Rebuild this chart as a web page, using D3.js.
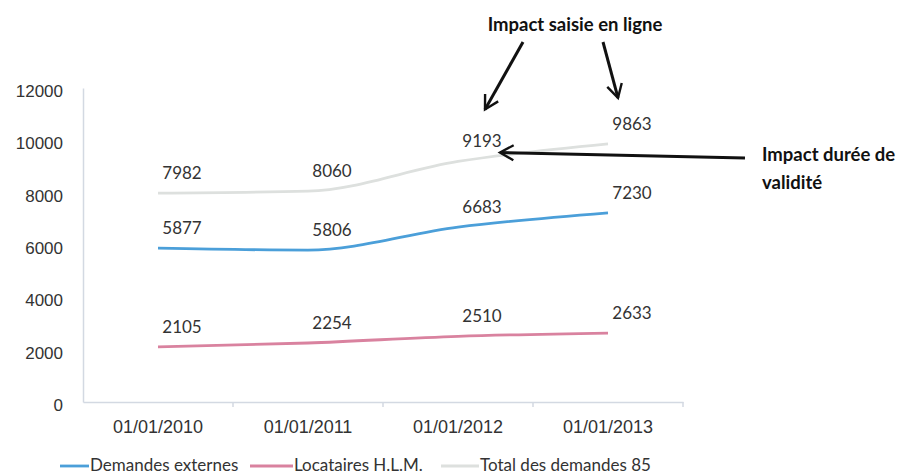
<!DOCTYPE html>
<html>
<head>
<meta charset="utf-8">
<script src="https://cdn.jsdelivr.net/npm/d3@7"></script>
<style>
  body { margin: 0; background: #fff; }
  svg { font-family: Lato, "Open Sans", sans-serif; }
</style>
</head>
<body>
<svg id="chart" width="900" height="475"></svg>
<script>
// data
const dates = ["01/01/2010", "01/01/2011", "01/01/2012", "01/01/2013"];
const externes = [5877, 5806, 6683, 7230];
const locataires = [2105, 2254, 2510, 2633];
const total = [7982, 8060, 9193, 9863];
const yTicks = [0, 2000, 4000, 6000, 8000, 10000, 12000];
const seriesNames = ["Demandes externes", "Locataires H.L.M.", "Total des demandes 85"];
const seriesColors = ["#4b9fd9", "#d9829f", "#dde0de"];

var svg = d3.select("#chart");

var x = d3.scaleBand().domain(dates).range([83, 683]);
var y = d3.scaleLinear().domain([0, 12000]).range([402, 88]);

const series = [
  { name: seriesNames[0], values: externes, color: seriesColors[0] },
  { name: seriesNames[1], values: locataires, color: seriesColors[1] },
  { name: seriesNames[2], values: total, color: seriesColors[2] }
];

// y axis: just a faint line + labels
var yAxis = svg.append("g")
  .attr("transform", "translate(" + x.range()[0] + ",0)")
  .call(d3.axisLeft(y).tickValues(yTicks).tickSize(0).tickPadding(20).tickFormat(d3.format("d")));
yAxis.select(".domain").attr("stroke", "#d3d9e2").attr("stroke-width", 1.5);
yAxis.selectAll("text").attr("font-size", 17).attr("fill", "#333").attr("dy", "0.5em");

// x axis
var xAxis = svg.append("g")
  .attr("transform", "translate(0," + y(0) + ")")
  .call(d3.axisBottom(x).tickSize(0).tickPadding(18));
xAxis.select(".domain").attr("stroke", "#d3d9e2").attr("stroke-width", 1.5);
xAxis.selectAll("text").attr("font-size", 18).attr("fill", "#333");

// small tick marks between categories
xAxis.selectAll(".sep")
  .data(dates.slice(1).concat(["end"]))
  .enter().append("line")
  .attr("x1", (d, i) => x(dates[0]) + (i + 1) * x.step())
  .attr("x2", (d, i) => x(dates[0]) + (i + 1) * x.step())
  .attr("y1", 0).attr("y2", 5)
  .attr("stroke", "#d3d9e2").attr("stroke-width", 1.5);

var cx = d => x(d) + x.bandwidth() / 2;

var line = d3.line()
  .x((v, i) => cx(dates[i]))
  .y(v => y(v))
  .curve(d3.curveMonotoneX);

svg.append("g").selectAll("path")
  .data(series)
  .enter().append("path")
  .attr("d", d => line(d.values))
  .attr("fill", "none")
  .attr("stroke", d => d.color)
  .attr("stroke-width", 2.8);

// data labels (sit up and to the right of the points)
series.forEach(function (s) {
  svg.append("g").selectAll("text")
    .data(s.values)
    .enter().append("text")
    .attr("x", (v, i) => cx(dates[i]) + 24)
    .attr("y", v => y(v) - 14)
    .attr("text-anchor", "middle")
    .attr("font-size", 17)
    .attr("fill", "#333")
    .text(v => v);
});

// legend
var legend = svg.append("g").attr("font-size", 17).attr("fill", "#333");
var legendX = [60, 250, 441];
var legendW = [29, 43, 38];
series.forEach(function (s, i) {
  legend.append("line")
    .attr("x1", legendX[i]).attr("x2", legendX[i] + legendW[i])
    .attr("y1", 466).attr("y2", 466)
    .attr("stroke", s.color).attr("stroke-width", 2.8);
  legend.append("text")
    .attr("x", legendX[i] + legendW[i] + 1)
    .attr("y", 471)
    .attr("fill", "#333")
    .text(s.name);
});

// annotations
svg.append("defs").append("marker")
  .attr("id", "head")
  .attr("viewBox", "0 0 12 12")
  .attr("refX", 10).attr("refY", 6)
  .attr("markerWidth", 6).attr("markerHeight", 6)
  .attr("orient", "auto")
  .append("path")
  .attr("d", "M1,1 L10,6 L1,11")
  .attr("fill", "none")
  .attr("stroke", "#111")
  .attr("stroke-width", 1.6);

var ann = svg.append("g").attr("font-weight", "bold").attr("font-size", 18.5).attr("fill", "#111");
ann.append("text").attr("x", 575).attr("y", 31).attr("text-anchor", "middle").text("Impact saisie en ligne");
ann.append("text").attr("x", 762).attr("y", 161).text("Impact durée de");
ann.append("text").attr("x", 762).attr("y", 189).text("validité");

var p2012 = [cx(dates[2]), y(total[2])];
var p2013 = [cx(dates[3]), y(total[3])];
var arrows = [
  [[523, 42], [p2012[0] + 27, p2012[1] - 52]],
  [[603, 42], [p2013[0] + 10, p2013[1] - 46]],
  [[745, 158], [p2012[0] + 42, p2012[1] - 9]]
];
svg.append("g").selectAll("line")
  .data(arrows)
  .enter().append("line")
  .attr("x1", d => d[0][0]).attr("y1", d => d[0][1])
  .attr("x2", d => d[1][0]).attr("y2", d => d[1][1])
  .attr("stroke", "#111")
  .attr("stroke-width", 3)
  .attr("marker-end", "url(#head)");
</script>
</body>
</html>
